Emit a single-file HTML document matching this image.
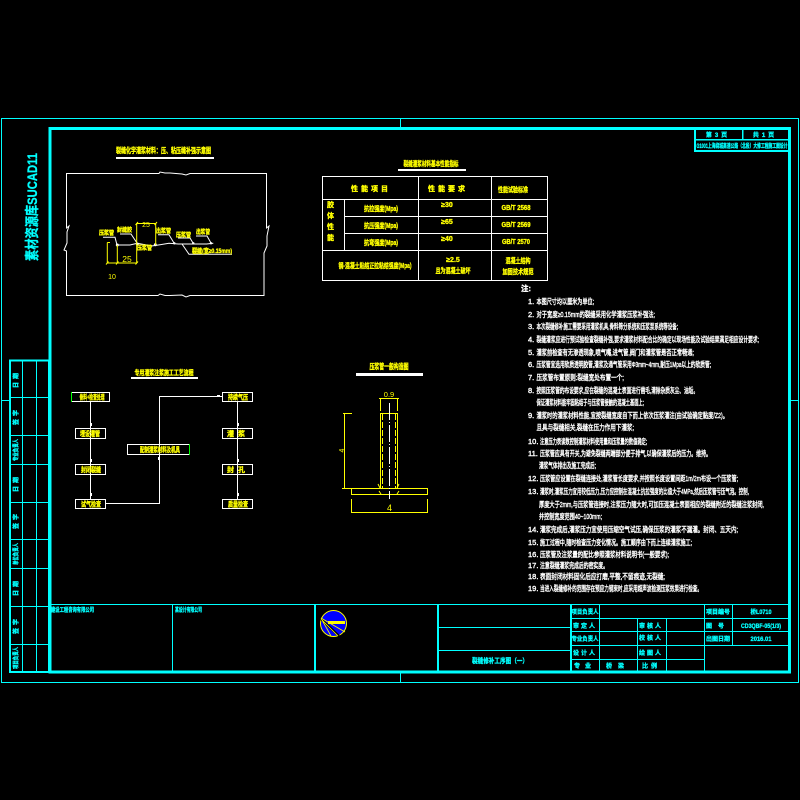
<!DOCTYPE html>
<html lang="zh"><head><meta charset="utf-8"><title>裂缝修补工序图</title>
<style>
html,body{margin:0;padding:0;background:#000;width:800px;height:800px;overflow:hidden}
svg{display:block}
text{font-family:"Liberation Sans","Noto Sans CJK SC",sans-serif;font-weight:bold}
.c text,text.c{fill:#0ff;stroke:#0ff;stroke-width:.3px}
.y text{fill:#ff0;stroke:#ff0;stroke-width:.35px}
.w text{fill:#fff;font-size:7.5px;font-weight:normal;stroke:#fff;stroke-width:.4px}
.m text{text-anchor:middle}
</style></head><body>
<svg width="800" height="800" viewBox="0 0 800 800" xmlns="http://www.w3.org/2000/svg">
<rect width="800" height="800" fill="#000"/>

<!-- frames -->
<g fill="none" stroke="#0ff" shape-rendering="crispEdges">
<rect x="1.5" y="118.5" width="797" height="564" stroke-width="1"/>
<path d="M1 400.5H9M791 400.5H799M400.5 119V127M400.5 673V682" stroke-width="1"/>
<rect x="50" y="128.5" width="739.5" height="543.5" stroke-width="3"/>
<!-- top right block -->
<path d="M695 129V151H789M695 139.5H789M742.5 129V139.5" stroke-width="1.5"/>
<path d="M695 129V151H789" stroke-width="2"/>
<!-- stamp col -->
<rect x="10" y="360.5" width="39" height="311.5" stroke-width="2"/>
<path stroke-width="1" d="M22.5 360V672M36.5 360V672M10 397.5H49M10 435.5H49M10 464.5H49M10 502.5H49M10 539.5H49M10 568.5H49M10 606.5H49M10 644.5H49"/>
<!-- title block -->
<path stroke-width="1" d="M50 604.5H790M172.5 604V672M438 627.5H571M438 650.5H571M571 618.5H789M571 631.5H789M571 645.5H789M571 659.5H704M599.5 604V672M637.5 618V672M666.5 618V672M704.5 604V672M732.5 604V645"/>
<path stroke-width="2" d="M315 604V672M438 604V672M571 604V672"/>
</g>

<!-- vertical watermark -->
<text class="c" transform="translate(37,261) rotate(-90)" font-size="14" textLength="108" lengthAdjust="spacingAndGlyphs">素材资源库SUCAD11</text>

<g class="c" font-size="6">
<g text-anchor="middle">
<text transform="translate(18,379) rotate(-90)" letter-spacing="3">日期</text>
<text transform="translate(18,416) rotate(-90)" letter-spacing="3">签字</text>
<text transform="translate(18,450) rotate(-90)" textLength="22" lengthAdjust="spacingAndGlyphs">专业负责人</text>
<text transform="translate(18,483) rotate(-90)" letter-spacing="3">日期</text>
<text transform="translate(18,520) rotate(-90)" letter-spacing="3">签字</text>
<text transform="translate(18,554) rotate(-90)" textLength="22" lengthAdjust="spacingAndGlyphs">单位负责人</text>
<text transform="translate(18,587) rotate(-90)" letter-spacing="3">日期</text>
<text transform="translate(18,625) rotate(-90)" letter-spacing="3">签字</text>
<text transform="translate(18,658) rotate(-90)" textLength="22" lengthAdjust="spacingAndGlyphs">项目负责人</text>
</g>
<text x="51" y="612" textLength="43" lengthAdjust="spacingAndGlyphs">建设工程咨询有限公司</text>
<text x="175" y="612" textLength="27" lengthAdjust="spacingAndGlyphs">某设计有限公司</text>
<text x="472" y="663" font-size="7" textLength="56" lengthAdjust="spacingAndGlyphs">裂缝修补工序图（一）</text>
<g text-anchor="middle">
<text x="585" y="614" textLength="27" lengthAdjust="spacingAndGlyphs">项目负责人</text>
<text x="585" y="628" letter-spacing="2">审定人</text>
<text x="585" y="641" textLength="27" lengthAdjust="spacingAndGlyphs">专业负责人</text>
<text x="585" y="655" letter-spacing="2">设计人</text>
<text x="585" y="668" letter-spacing="5">专业</text>
<text x="618" y="668" letter-spacing="6">桥梁</text>
<text x="651" y="628" letter-spacing="2">审核人</text>
<text x="651" y="640" letter-spacing="2">校核人</text>
<text x="651" y="655" letter-spacing="2">绘图人</text>
<text x="651" y="668" letter-spacing="3">比例</text>
<text x="718" y="614">项目编号</text>
<text x="718" y="628" letter-spacing="6">图号</text>
<text x="718" y="641">出图日期</text>
<text x="761" y="614" textLength="21" lengthAdjust="spacingAndGlyphs">桥L0710</text>
<text x="761" y="628" textLength="40" lengthAdjust="spacingAndGlyphs">CD3QBF-05(1/3)</text>
<text x="761" y="641" textLength="21" lengthAdjust="spacingAndGlyphs">2016.01</text>
<text x="718" y="137" letter-spacing="3">第3页</text>
<text x="765" y="137" letter-spacing="3">共1页</text>
<text x="742" y="148" textLength="91" lengthAdjust="spacingAndGlyphs">G1001上海绕城高速公路（北段）大修工程施工图设计</text>
</g>
</g>

<!-- logo -->
<circle cx="333.5" cy="623.5" r="13" fill="#00f" stroke="#ff0" stroke-width="1"/>
<path d="M321 619L339 636" stroke="#000" stroke-width="2.5" fill="none"/>
<path d="M321 618L345 632M321 619L338 636M322 620L331 636" stroke="#ff0" stroke-width=".8" fill="none"/>
<rect x="328" y="621" width="17" height="3" fill="#ff0"/>

<!-- detail 1 -->
<g fill="none" stroke="#fff" stroke-width="1">
<path d="M66.5 173.5H159L160 172L165 173H170L182 174L186 175L190 173.5H266.5V228L269 226L267 236V246L264 253V295.5H190L186 297L182 295L170 295.5H165L160 294L158 295.5H66.5V251L64 250L67 243V232L69 226L66.5 228Z"/>
<path d="M116.700 245H130L137.300 243.300L151.700 246L160 244.700L169 243.300L178.300 244H188.300L198.300 244H206.700L213.300 243.300"/>
<path d="M103 237.300H115L117 245M120 234H131L137 243M158 234.700H169L174 243M178 238H190L193 243M196 236H207L211 243M182 244L189 254.300H232"/>
</g>
<g fill="#fff"><circle cx="117.300" cy="245" r="1.500"/><circle cx="137.300" cy="244" r="1.500"/><circle cx="155.300" cy="244.700" r="1.500"/><circle cx="174.300" cy="243.300" r="1.200"/><circle cx="193.300" cy="243.300" r="1.200"/><circle cx="211" cy="243.300" r="1.200"/></g>
<g fill="none" stroke="#ff0" stroke-width="1">
<path d="M136.700 223.500H155.700M136.700 223V263M155.700 223V245M107.300 242.500V263M107.300 242.500H110M117.300 245V263M107 263H137"/>
<path d="M116 264.500L118.500 261.500M135.500 264.500L138 261.500M106 264.500L108.500 261.500M135.500 225L138 222M154.500 225L157 222"/>
</g>
<g class="y">
<text x="116" y="153" font-size="7.500" textLength="95" lengthAdjust="spacingAndGlyphs">裂缝化学灌浆材料：压、粘压缝补强示意图</text>
<text x="99" y="235" font-size="6" textLength="15" lengthAdjust="spacingAndGlyphs">压浆管</text>
<text x="117" y="232" font-size="6" textLength="15" lengthAdjust="spacingAndGlyphs">封缝胶</text>
<text x="137" y="250" font-size="6" textLength="15" lengthAdjust="spacingAndGlyphs">压浆管</text>
<text x="156" y="233" font-size="6" textLength="15" lengthAdjust="spacingAndGlyphs">出浆管</text>
<text x="176" y="237" font-size="6" textLength="15" lengthAdjust="spacingAndGlyphs">压浆管</text>
<text x="196" y="234" font-size="6" textLength="14" lengthAdjust="spacingAndGlyphs">出浆管</text>
<text x="192" y="253" font-size="6.500" textLength="40" lengthAdjust="spacingAndGlyphs">裂缝(宽≥0.15mm)</text>
<text x="146" y="227" font-size="7" text-anchor="middle" style="font-weight:normal;stroke-width:0">25</text>
<text x="127" y="262" font-size="8.500" text-anchor="middle" style="font-weight:normal;stroke-width:0">25</text>
<text x="112" y="279" font-size="7" text-anchor="middle" style="font-weight:normal;stroke-width:0">10</text>
</g>
<rect x="116" y="157" width="98" height="2" fill="#fff"/>

<!-- table -->
<g fill="none" stroke="#fff" stroke-width="1" shape-rendering="crispEdges">
<rect x="322.500" y="176.500" width="225" height="104"/>
<path d="M418.500 176V280M491.500 176V280M322 199.500H548M344.500 199V250M344 216.500H548M344 233.500H548M322 250.500H548"/>
</g>
<rect x="398" y="169" width="68" height="2" fill="#fff"/>
<g class="y m" font-size="7">
<text x="431" y="166" textLength="55" lengthAdjust="spacingAndGlyphs">裂缝灌浆材料基本性能指标</text>
<text x="371" y="191" letter-spacing="3">性能项目</text>
<text x="448" y="191" letter-spacing="3">性能要求</text>
<text x="513" y="192" textLength="30" lengthAdjust="spacingAndGlyphs">性能试验标准</text>
<text x="381" y="211" textLength="34" lengthAdjust="spacingAndGlyphs">抗拉强度(Mpa)</text>
<text x="381" y="228" textLength="34" lengthAdjust="spacingAndGlyphs">抗压强度(Mpa)</text>
<text x="381" y="245" textLength="34" lengthAdjust="spacingAndGlyphs">抗弯强度(Mpa)</text>
<text x="447" y="207">≥30</text>
<text x="447" y="224">≥65</text>
<text x="447" y="241">≥40</text>
<text x="516" y="210" textLength="29" lengthAdjust="spacingAndGlyphs">GB/T 2568</text>
<text x="516" y="227" textLength="29" lengthAdjust="spacingAndGlyphs">GB/T 2569</text>
<text x="516" y="244" textLength="28" lengthAdjust="spacingAndGlyphs">GB/T 2570</text>
<text x="330.500" y="207">胶</text><text x="330.500" y="218">体</text><text x="330.500" y="229">性</text><text x="330.500" y="240">能</text>
<text x="375" y="268" textLength="73" lengthAdjust="spacingAndGlyphs">钢-混凝土粘结正拉粘结强度(Mpa)</text>
<text x="453" y="262">≥2.5</text>
<text x="453" y="273" textLength="35" lengthAdjust="spacingAndGlyphs">且为混凝土破坏</text>
<text x="518" y="263" textLength="25" lengthAdjust="spacingAndGlyphs">混凝土结构</text>
<text x="518" y="274" textLength="31" lengthAdjust="spacingAndGlyphs">加固技术规范</text>
</g>

<!-- flow -->
<g fill="none" stroke="#fff" stroke-width="1" shape-rendering="crispEdges">
<path d="M90.500 402V499M237.500 402V499M105 503.500H159.500V396.500H222"/>
<rect x="71.500" y="392.500" width="38" height="9"/>
<rect x="75.500" y="428.500" width="30" height="10"/>
<rect x="75.500" y="464.500" width="30" height="10"/>
<rect x="75.500" y="499.500" width="30" height="9"/>
<rect x="222.500" y="392.500" width="30" height="9"/>
<rect x="222.500" y="428.500" width="30" height="10"/>
<rect x="222.500" y="464.500" width="30" height="10"/>
<rect x="222.500" y="499.500" width="30" height="9"/>
<rect x="127.500" y="444.500" width="62" height="10"/>
</g>
<path d="M71.500 392V402M189.500 444V455" stroke="#0f0" stroke-width="1" shape-rendering="crispEdges"/>
<rect x="131" y="377" width="67" height="2" fill="#fff"/>
<g fill="#fff"><rect x="91" y="423" width="1" height="3"/><rect x="91" y="459" width="1" height="3"/><rect x="91" y="493" width="1" height="3"/><rect x="238" y="423" width="1" height="3"/><rect x="238" y="459" width="1" height="3"/><rect x="238" y="493" width="1" height="3"/><rect x="158" y="457" width="1" height="3"/><rect x="217" y="395" width="3" height="1"/></g>
<g class="y m" font-size="7">
<text x="164" y="375" textLength="59" lengthAdjust="spacingAndGlyphs">专用灌浆注浆施工工艺流程</text>
<text x="92" y="399.500" textLength="25" lengthAdjust="spacingAndGlyphs">骨料+检查处理</text>
<text x="90" y="436" textLength="20" lengthAdjust="spacingAndGlyphs">埋设灌管</text>
<text x="91" y="472" textLength="20" lengthAdjust="spacingAndGlyphs">封闭裂缝</text>
<text x="91" y="506.500" textLength="20" lengthAdjust="spacingAndGlyphs">试气检查</text>
<text x="160" y="452" textLength="40" lengthAdjust="spacingAndGlyphs">配制灌浆材料及机具</text>
<text x="238" y="399.500" textLength="20" lengthAdjust="spacingAndGlyphs">持续气压</text>
<text x="238" y="436" letter-spacing="4">灌浆</text>
<text x="238" y="472" letter-spacing="4">封孔</text>
<text x="238" y="506.500" textLength="20" lengthAdjust="spacingAndGlyphs">质量检查</text>
</g>

<!-- section -->
<rect x="356" y="373" width="67" height="3" fill="#fff"/>
<g fill="none" stroke="#ff0" stroke-width="1" shape-rendering="crispEdges">
<rect x="380.500" y="413.500" width="17" height="75"/>
<rect x="351.500" y="488.500" width="76" height="6"/>
<path d="M382.500 414V488M395.500 414V488" stroke-dasharray="6 2"/>
<path d="M380.500 399V411M397.500 399V411M379 398.500H399M344.500 413V488M343 413.500H352M342 488.500H352M351.500 499V513M427.500 499V513M351 512.500H428"/>
</g>
<path d="M380 488L378 484M397 488L399 484M381 494L379 491M397 494L399 491" stroke="#ff0" fill="none"/>
<path d="M389.500 403V499" stroke="#fff" stroke-width="1" stroke-dasharray="17 2 1 2" fill="none" shape-rendering="crispEdges"/>
<g class="y m">
<text x="389" y="369" font-size="7.500" textLength="39" lengthAdjust="spacingAndGlyphs">压浆管一般构造图</text>
<text x="389" y="397" font-size="7.500" style="font-weight:normal;stroke-width:0">0.9</text>
<text x="389.500" y="511" font-size="9" style="font-weight:normal;stroke-width:0">4</text>
<text transform="translate(344,450.500) rotate(-90)" font-size="7" style="font-weight:normal;stroke-width:0">4</text>
</g>

<!-- notes -->
<g class="w">
<text x="521" y="291" style="font-weight:bold">注:</text>
<text x="528" y="304">1.</text><text x="536.500" y="304" textLength="57.500" lengthAdjust="spacingAndGlyphs">本图尺寸均以厘米为单位;</text>
<text x="528" y="317">2.</text><text x="536.500" y="317" textLength="118.500" lengthAdjust="spacingAndGlyphs">对于宽度≥0.15mm的裂缝采用化学灌浆压浆补强法;</text>
<text x="528" y="329">3.</text><text x="536.500" y="329" textLength="141.500" lengthAdjust="spacingAndGlyphs">本次裂缝修补施工需要采用灌浆机具,骨料筛分系统和压浆泵系统等设备;</text>
<text x="528" y="342">4.</text><text x="536.500" y="342" textLength="222.500" lengthAdjust="spacingAndGlyphs">裂缝灌浆应进行预试验检查裂缝补强,要求灌浆材料配合比的确定以现场性能及试验结果满足相应设计要求;</text>
<text x="528" y="355">5.</text><text x="536.500" y="355" textLength="157.500" lengthAdjust="spacingAndGlyphs">灌浆前检查有无渗透现象,喷气嘴,进气管,阀门和灌浆管是否正常畅通;</text>
<text x="528" y="367">6.</text><text x="536.500" y="367" textLength="174.500" lengthAdjust="spacingAndGlyphs">压浆管宜选用软质透明胶管,灌浆及通气管采用Φ3mm~4mm,耐压1Mpa以上的软质管;</text>
<text x="528" y="380">7.</text><text x="536.500" y="380" textLength="87.500" lengthAdjust="spacingAndGlyphs">压浆管布置原则:裂缝宽处布置一个;</text>
<text x="528" y="393">8.</text><text x="536.500" y="393" textLength="161.500" lengthAdjust="spacingAndGlyphs">按照压浆管的布设要求,应在裂缝的混凝土表面进行凿毛,清除杂质灰尘、油垢。</text>
<text x="536.500" y="405" textLength="107.500" lengthAdjust="spacingAndGlyphs">保证灌浆材料能牢固粘结于与压浆管接触的混凝土基面上;</text>
<text x="528" y="418">9.</text><text x="536.500" y="418" textLength="191.500" lengthAdjust="spacingAndGlyphs">灌浆时的灌浆材料性能,宜按裂缝宽度自下而上依次压浆灌注(由试验确定黏度/Z2)。</text>
<text x="536.500" y="430" textLength="97.500" lengthAdjust="spacingAndGlyphs">且具与裂缝相关,裂缝在压力作用下灌浆;</text>
<text x="528" y="444">10.</text><text x="540" y="444" textLength="107" lengthAdjust="spacingAndGlyphs">注意压力表读数控制灌浆材料使用量和压浆量的数值确定;</text>
<text x="528" y="456">11.</text><text x="540" y="456" textLength="171" lengthAdjust="spacingAndGlyphs">压浆管应具有开关,为避免裂缝两端部分便于排气,以确保灌浆后的压力。维持。</text>
<text x="539" y="468" textLength="57" lengthAdjust="spacingAndGlyphs">灌浆气体排出及施工完成后;</text>
<text x="528" y="481">12.</text><text x="540" y="481" textLength="198" lengthAdjust="spacingAndGlyphs">压浆管应设置在裂缝连接处,灌浆管长度要求,并按照长度设置间距1m/2m布设一个压浆管;</text>
<text x="528" y="494">13.</text><text x="540" y="494" textLength="209" lengthAdjust="spacingAndGlyphs">灌浆时,灌浆压力宜用较低压力,压力应控制在混凝土抗拉强度的比值大于4MPa,然后压浆管亏压气泡。控制,</text>
<text x="539" y="507" textLength="225" lengthAdjust="spacingAndGlyphs">厚度大于2mm,与压浆管连接时,注浆压力随大时,可加压混凝土表面相应的裂缝附近的裂缝注浆封闭,</text>
<text x="539" y="519" textLength="63" lengthAdjust="spacingAndGlyphs">并控制宽度范围40~100mm;</text>
<text x="528" y="532">14.</text><text x="540" y="532" textLength="198" lengthAdjust="spacingAndGlyphs">灌浆完成后,灌浆压力宜使用压缩空气试压,确保压浆的灌浆不漏灌。封闭、五天内;</text>
<text x="528" y="545">15.</text><text x="540" y="545" textLength="152" lengthAdjust="spacingAndGlyphs">施工过程中,随时检查压力变化情况。施工顺序由下而上连续灌浆施工;</text>
<text x="528" y="557">16.</text><text x="540" y="557" textLength="129" lengthAdjust="spacingAndGlyphs">压浆管及注浆量的配比参照灌浆材料说明书(一般要求);</text>
<text x="528" y="568">17.</text><text x="540" y="568" textLength="68" lengthAdjust="spacingAndGlyphs">注意裂缝灌浆完成后的密实度。</text>
<text x="528" y="579">18.</text><text x="540" y="579" textLength="125" lengthAdjust="spacingAndGlyphs">表面封闭材料固化后应打磨,平整,不留痕迹,无裂缝;</text>
<text x="528" y="591">19.</text><text x="540" y="591" textLength="162" lengthAdjust="spacingAndGlyphs">当进入裂缝修补的范围存在预应力钢束时,应采用超声波检测压浆效果进行检查。</text>
</g>
</svg>
</body></html>
